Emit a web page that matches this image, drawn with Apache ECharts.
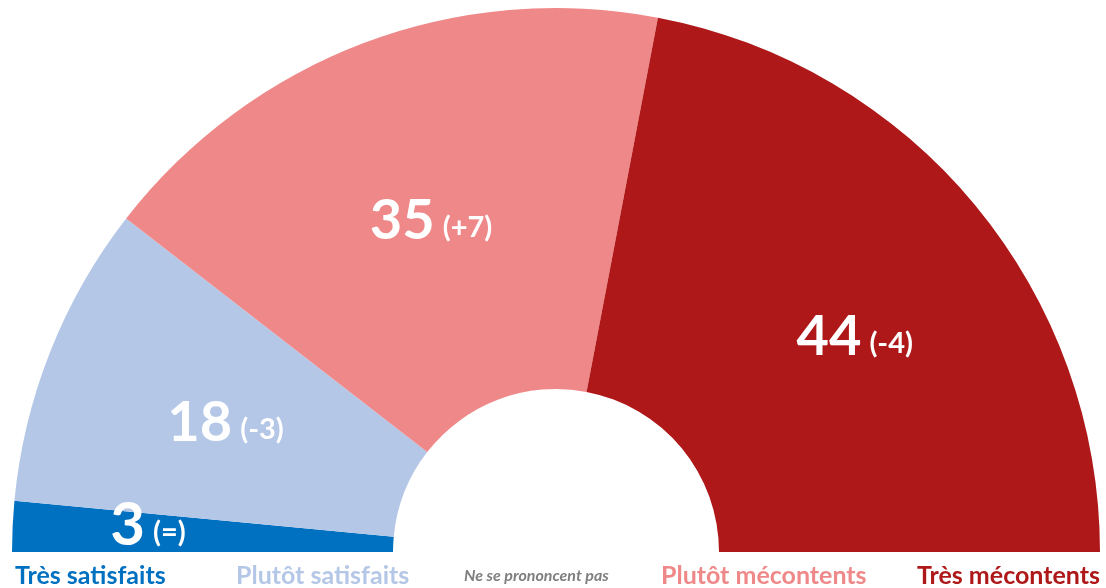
<!DOCTYPE html>
<html><head><meta charset="utf-8">
<script src="https://cdn.jsdelivr.net/npm/echarts@6/dist/echarts.min.js"></script>
<style>html,body{margin:0;padding:0;background:#fff}#c{width:1106px;height:588px}</style>
</head><body><div id="c"></div>
<script>
const categories = ["Très satisfaits", "Plutôt satisfaits", "Ne se prononcent pas", "Plutôt mécontents", "Très mécontents"];
const values = [3, 18, 0, 35, 44];
const changes = ["(=)", "(-3)", "", "(+7)", "(-4)"];
const colors = ["#0070C0", "#B4C7E7", "#7F7F7F", "#EF8888", "#AF1818"];
const labelOffsets = [[-52, -10], [1, 2], [0, 0], [1, 2], [24, 12]];
const legendLeft = [15, 236, 464, 661, 917];

const FONT = "Lato";
const chart = echarts.init(document.getElementById('c'), null, {renderer: 'canvas'});
const data = categories.map((c, i) => ({
  name: c,
  value: values[i],
  itemStyle: {color: colors[i]},
  label: {
    show: values[i] > 0,
    offset: labelOffsets[i],
    formatter: '{big|' + values[i] + '}{small|' + changes[i] + '}',
    rich: {
      big: {fontFamily: FONT, fontWeight: 'bold', fontSize: i === 0 ? 60 : 56, color: '#fff'},
      small: {fontFamily: FONT, fontWeight: 'bold', fontSize: 29, color: '#fff', padding: [14, 0, 0, 8]}
    }
  }
}));
const legends = categories.map((c, i) => ({
  data: [c],
  left: legendLeft[i],
  top: i === 2 ? 568 : 563,
  icon: 'none',
  itemWidth: 0,
  itemHeight: 0,
  padding: 0,
  selectedMode: false,
  textStyle: {
    fontFamily: FONT,
    fontWeight: 'bold',
    fontStyle: i === 2 ? 'italic' : 'normal',
    fontSize: i === 2 ? 16 : 25,
    color: colors[i],
    padding: [0, 0, 0, -5]
  }
}));
chart.setOption({
  animation: false,
  legend: legends,
  series: [{
    type: 'pie',
    center: [556, 552],
    radius: [163, 544],
    startAngle: 180,
    endAngle: 0,
    clockwise: true,
    avoidLabelOverlap: false,
    label: {position: 'inside'},
    labelLine: {show: false},
    emphasis: {disabled: true},
    data: data
  }]
});
</script></body></html>
